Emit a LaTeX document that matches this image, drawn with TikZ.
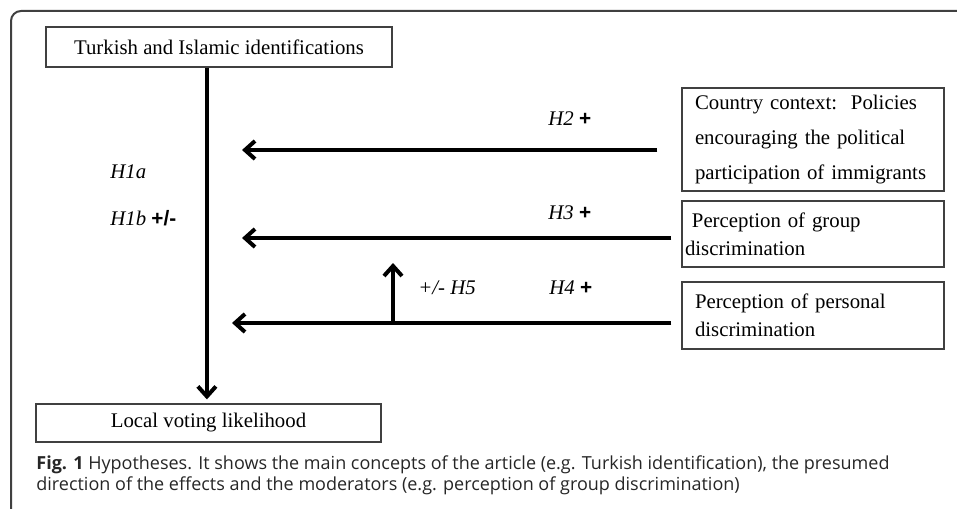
\documentclass[tikz,border=0pt]{standalone}
\usepackage{fontspec}
\setmainfont{Liberation Serif}
\newfontfamily\capfont{Open Sans}
\newfontfamily\signfont{Liberation Sans}
\usetikzlibrary{arrows.meta, positioning}
\tikzset{
  concept/.style={rectangle, draw=black!75, line width=0.6pt, inner sep=0pt,
                  font=\fontsize{10.4}{14}\selectfont},
  effect/.style={-{Straight Barb[length=5pt, width=9pt]}, line width=2pt},
  hyp/.style={font=\fontsize{10.4}{12}\selectfont\itshape, inner sep=0pt, anchor=west}
}
\newcommand{\sgn}[1]{{\upshape\signfont\bfseries #1}}

\begin{document}
\begin{tikzpicture}[x=0.5pt, y=-0.5pt]
  \useasboundingbox (0,0) rectangle (957,508);

  % Outer frame (only top and left edges visible)
  \coordinate (fbot) at (11,530);
  \coordinate (fright) at (980,11);
  \draw[black!75, line width=1pt, rounded corners=5pt] (fbot) |- (fright);

  % Concepts
  \node[concept, minimum width=173pt, minimum height=20pt] (tid) at (219,47)
       {Turkish and Islamic identifications};
  \node[concept, minimum width=172.5pt, minimum height=19pt] (vote) at (208.5,423)
       {Local voting likelihood};
  \node[concept, minimum width=131pt, minimum height=51.5pt, text width=118pt,
        align=left, font=\fontsize{10.4}{17.5}\selectfont] (ctx) at (813,139.5)
       {\raisebox{1pt}{\parbox{118pt}{Country context:\ \ Policies\\encouraging the political\\participation of immigrants}}};
  \node[concept, minimum width=131pt, minimum height=33pt, text width=128pt,
        align=left] (grp) at (813,234)
       {\ Perception of group\\discrimination};
  \node[concept, minimum width=131pt, minimum height=33.5pt, text width=118pt,
        align=left] (pers) at (813,315.5)
       {Perception of personal\\discrimination};

  % Arrow tips and moderator point
  \coordinate (tip2) at (242,150);
  \coordinate (tip3) at (242,238);
  \coordinate (tip4) at (232,323);
  \coordinate (mod)  at (393,323);
  \coordinate (modtip) at (393,263);

  % Effects
  \draw[effect] ([xshift=-0.8pt]vote.north |- tid.south) -- ([xshift=-0.8pt, yshift=2pt]vote.north);
  \draw[effect] ([xshift=-12pt]ctx.west |- tip2) -- (tip2);
  \draw[effect] ([xshift=-5pt]grp.west |- tip3) -- (tip3);
  \draw[effect] ([xshift=-5pt]pers.west |- tip4) -- (tip4);
  \draw[effect] (mod) -- (modtip);

  % Hypothesis labels
  \node[hyp] (h1a) at (110,172) {H1a};
  \node[hyp] (h1b) at (110,218) {H1b \sgn{+/-}};
  \node[hyp] (h2)  at (548,119) {H2 \sgn{+}};
  \node[hyp] (h3)  at (548,213) {H3 \sgn{+}};
  \node[hyp] (h4)  at (549,288) {H4 \sgn{+}};
  \node[hyp] (h5)  at (418,288) {+/- H5};

  % Caption
  \node[anchor=north west, inner sep=0pt, align=left, text=black!85,
        font=\capfont\fontsize{9}{10.5}\selectfont] (cap) at (36,455)
       {\textbf{Fig. 1} Hypotheses. It shows the main concepts of the article (e.g. Turkish identification), the presumed\\
        direction of the effects and the moderators (e.g. perception of group discrimination)};
\end{tikzpicture}
\end{document}
